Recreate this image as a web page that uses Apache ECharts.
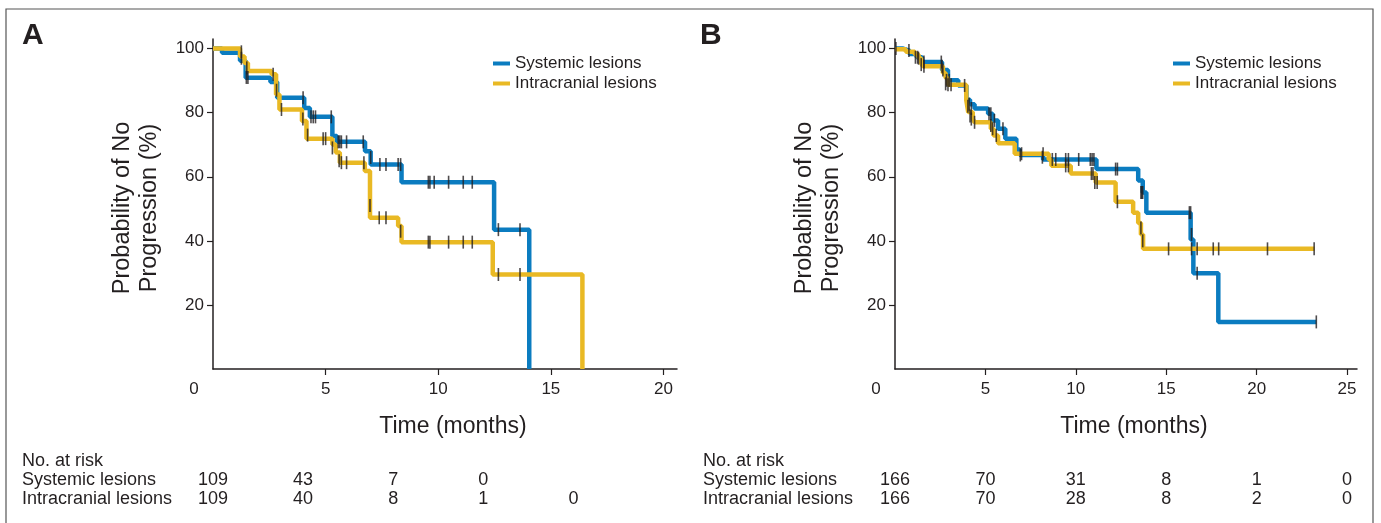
<!DOCTYPE html>
<html>
<head>
<meta charset="utf-8">
<script src="https://cdn.jsdelivr.net/npm/echarts@6/dist/echarts.min.js"></script>
<style>
  html, body { margin: 0; padding: 0; background: #fff; }
  #chart { width: 1381px; height: 523px; }
</style>
</head>
<body>
<div id="chart"></div>
<script>
// ---------- DATA ----------
const seriesNames = ['Systemic lesions', 'Intracranial lesions'];
const riskRows = ['No. at risk', 'Systemic lesions', 'Intracranial lesions'];

// Panel A: Kaplan-Meier steps [time (months), probability (%)]
const panelA_systemic = [[0,100],[0.4,98.7],[1.2,96.2],[1.45,90.9],[2.55,89.6],[2.85,84.7],[4.05,81.5],[4.3,78.7],[5.3,72.7],[5.5,70.9],[6.75,68],[7.0,63.8],[8.37,58.3],[12.48,43.5],[14.04,0]];
const panelA_intracranial = [[0,100],[1.2,97.5],[1.4,95.5],[1.55,93.0],[2.6,92.0],[2.8,85.7],[2.95,81],[3.95,77.4],[4.15,71.9],[5.3,70.1],[5.45,67.6],[5.63,64.4],[6.74,61.8],[6.97,47.2],[8.22,44.6],[8.37,39.6],[12.42,29.5],[16.4,0]];
const panelA_systemic_censor = [[1.26,97],[1.48,91],[1.55,91],[4.0,84.7],[4.35,78.7],[4.45,78.7],[4.55,78.7],[5.25,78.7],[5.56,70.9],[5.63,70.9],[5.7,70.9],[5.93,70.9],[6.67,70.9],[7.0,66],[7.41,63.8],[7.68,63.8],[8.22,63.8],[8.33,63.8],[9.56,58.3],[9.63,58.3],[9.82,58.3],[10.46,58.3],[11.11,58.3],[11.51,58.3],[12.67,43.5],[13.63,43.5]];
const panelA_intracranial_censor = [[1.26,99],[1.5,94],[2.67,92],[2.82,87],[3.04,81],[3.99,78],[4.2,73],[4.89,71.9],[5.0,71.9],[5.3,69],[5.6,65],[5.7,64.4],[5.93,64.4],[6.7,64.4],[6.97,51],[7.38,47.2],[7.68,47.2],[8.33,43],[9.56,39.6],[9.63,39.6],[10.46,39.6],[11.11,39.6],[11.51,39.6],[12.67,29.5],[13.63,29.5]];

// Panel B
const panelB_systemic = [[0,100],[0.45,99.4],[0.8,98.3],[1.2,97.3],[1.5,95.8],[2.6,93.3],[2.93,90.1],[3.5,88.5],[3.95,84],[4.15,82.6],[4.4,81.3],[5.15,79.7],[5.4,77.6],[5.7,75],[6.1,71.9],[6.71,68.5],[6.9,66.8],[8.19,65.4],[11.14,62.4],[13.45,58.8],[13.7,55.1],[13.9,48.8],[16.35,40.4],[16.5,29.9],[17.88,14.7],[23.3,14.7]];
const panelB_intracranial = [[0,99.8],[0.6,99],[1.1,98.2],[1.3,97],[1.45,95.5],[1.54,94.5],[2.65,92.4],[2.8,90.8],[2.93,88.7],[3.94,84],[4.05,80.2],[4.3,78.1],[4.4,77],[5.3,75],[5.45,72.9],[5.7,70.5],[6.62,67.2],[8.5,65.4],[8.65,63.4],[9.72,61],[11.1,58.2],[12.2,52.2],[13.17,48.8],[13.45,45.6],[13.6,42],[13.72,37.5],[23.2,37.5]];
const panelB_systemic_censor = [[0.05,100],[0.77,99.4],[1.13,97.3],[1.25,97.3],[1.6,95.8],[2.56,95.8],[2.65,93.3],[2.85,90.1],[3.0,90.1],[3.85,88.5],[4.1,82.6],[4.22,81.3],[5.2,79.7],[5.3,79.7],[5.5,77.6],[5.97,75],[6.93,66.8],[8.15,66.1],[8.7,65.4],[8.89,65.4],[9.44,65.4],[9.59,65.4],[10.16,65.4],[10.8,65.4],[10.9,65.4],[11.0,65.4],[12.2,62.4],[12.3,62.4],[13.6,55.1],[13.65,55.1],[13.7,55.1],[16.28,48.8],[16.35,48.8],[16.4,42],[16.71,29.9],[23.3,14.7]];
const panelB_intracranial_censor = [[1.3,97],[1.45,95],[1.6,94.5],[2.6,94.5],[2.8,89],[2.93,88.7],[3.1,88.7],[4.03,82],[4.15,79],[4.22,78],[4.4,77],[5.3,76],[5.4,75],[5.6,72.9],[7.0,67.2],[8.19,67.2],[9.44,63.4],[9.59,63.4],[10.86,61],[10.95,61],[11.05,58.2],[11.18,58.2],[12.3,52.2],[13.6,44],[13.7,40],[15.13,37.5],[16.4,37.5],[16.71,37.5],[17.6,37.5],[17.9,37.5],[20.6,37.5],[23.18,37.5]];

// Ticks
const yTicks = [20, 40, 60, 80, 100];
const xTicksA = [0, 5, 10, 15, 20];
const xTicksB = [0, 5, 10, 15, 20, 25];

// Number at risk tables
const riskTimesA = [0, 4, 8, 12, 16];
const riskA_systemic = [109, 43, 7, 0, null];
const riskA_intracranial = [109, 40, 8, 1, 0];
const riskTimesB = [0, 5, 10, 15, 20, 25];
const riskB_systemic = [166, 70, 31, 8, 1, 0];
const riskB_intracranial = [166, 70, 28, 8, 2, 0];

// ---------- STYLE ----------
const FONT = '"Liberation Sans", Arial, Helvetica, sans-serif';
const BLUE = '#0b7cc0';
const YELLOW = '#e9b924';
const INK = '#231f20';

const chart = echarts.init(document.getElementById('chart'), null, { renderer: 'canvas' });

function xAxisMain(gridIndex, max, ticks) {
  return {
    type: 'value', gridIndex, min: 0, max,
    name: 'Time (months)', nameLocation: 'middle', nameGap: 46,
    nameTextStyle: { fontFamily: FONT, fontSize: 23, color: INK, padding: [0, 0, 0, 16] },
    axisLine: { show: true, onZero: false, lineStyle: { color: INK, width: 1.5 } },
    axisTick: { show: true, customValues: ticks.filter(v => v !== 0), length: 6, lineStyle: { color: INK, width: 1.2 } },
    axisLabel: {
      customValues: ticks, margin: 12, fontFamily: FONT, fontSize: 17, color: INK,
      formatter: v => v === 0 ? '{z|0}' : String(v),
      rich: { z: { fontFamily: FONT, fontSize: 17, color: INK, padding: [0, 38, 0, 0] } }
    },
    splitLine: { show: false }
  };
}
function yAxisMain(gridIndex) {
  return {
    type: 'value', gridIndex, min: 0, max: 103,
    name: 'Probability of No\nProgression (%)', nameLocation: 'middle', nameGap: 50, nameRotate: 90,
    nameTextStyle: { fontFamily: FONT, fontSize: 23.5, lineHeight: 27, color: INK, padding: [0, 8, 0, 0] },
    axisLine: { show: true, onZero: false, lineStyle: { color: INK, width: 1.5 } },
    axisTick: { show: true, customValues: yTicks, length: 6, lineStyle: { color: INK, width: 1.2 } },
    axisLabel: { customValues: yTicks, margin: 9, fontFamily: FONT, fontSize: 17, color: INK },
    splitLine: { show: false }
  };
}
function xAxisRisk(gridIndex, max) {
  return { type: 'value', gridIndex, min: 0, max, show: false, splitLine: { show: false } };
}
function yAxisRisk(gridIndex, margin) {
  return {
    type: 'category', gridIndex, data: riskRows, inverse: true,
    axisLine: { show: false }, axisTick: { show: false }, splitLine: { show: false },
    axisLabel: { interval: 0, hideOverlap: false, align: 'left', margin, fontFamily: FONT, fontSize: 18, color: INK }
  };
}
function kmLine(name, data, color, xi, yi) {
  return {
    name, type: 'line', step: 'end', data, xAxisIndex: xi, yAxisIndex: yi,
    showSymbol: false, symbol: 'none', lineStyle: { color, width: 4.5 }, itemStyle: { color },
    z: 3, silent: true
  };
}
function censor(name, data, xi, yi) {
  return {
    name, type: 'scatter', data, xAxisIndex: xi, yAxisIndex: yi,
    symbol: 'rect', symbolSize: [1.6, 13], itemStyle: { color: INK }, z: 5, silent: true
  };
}
function riskSeries(name, times, vals, row, xi, yi) {
  const data = [];
  times.forEach((t, i) => { if (vals[i] !== null) data.push([t, row, vals[i]]); });
  return {
    name, type: 'scatter', data, xAxisIndex: xi, yAxisIndex: yi,
    symbol: 'circle', symbolSize: 0.01, itemStyle: { color: INK }, silent: true,
    label: { show: true, position: 'inside', formatter: p => String(p.value[2]),
             fontFamily: FONT, fontSize: 18, color: INK, opacity: 1, textBorderWidth: 0 }
  };
}
function legend(left) {
  return {
    data: seriesNames, orient: 'vertical', left, top: 50,
    icon: 'rect', itemWidth: 17, itemHeight: 4, itemGap: 3,
    textStyle: { fontFamily: FONT, fontSize: 17, color: INK, lineHeight: 17 },
    selectedMode: false
  };
}

const option = {
  animation: false,
  backgroundColor: '#fff',
  grid: [
    { left: 213, top: 39, width: 464, height: 330 },
    { left: 895, top: 39, width: 462, height: 330 },
    { left: 213, top: 452, width: 464, height: 56 },
    { left: 895, top: 452, width: 462, height: 56 }
  ],
  xAxis: [ xAxisMain(0, 20.6, xTicksA), xAxisMain(1, 25.55, xTicksB), xAxisRisk(2, 20.6), xAxisRisk(3, 25.55) ],
  yAxis: [ yAxisMain(0), yAxisMain(1), yAxisRisk(2, 191), yAxisRisk(3, 192) ],
  legend: [ legend(488), legend(1168) ],
  graphic: [
    { type: 'rect', shape: { x: 6, y: 9, width: 1367, height: 540 }, style: { fill: 'none', stroke: '#555', lineWidth: 1.2 }, silent: true },
    { type: 'text', left: 22, top: 21, style: { text: 'A', font: 'bold 30px ' + FONT, fill: INK } },
    { type: 'text', left: 700, top: 21, style: { text: 'B', font: 'bold 30px ' + FONT, fill: INK } }
  ],
  series: [
    kmLine(seriesNames[0], panelA_systemic, BLUE, 0, 0),
    kmLine(seriesNames[1], panelA_intracranial, YELLOW, 0, 0),
    censor('censorA1', panelA_systemic_censor, 0, 0),
    censor('censorA2', panelA_intracranial_censor, 0, 0),
    kmLine(seriesNames[0], panelB_systemic, BLUE, 1, 1),
    kmLine(seriesNames[1], panelB_intracranial, YELLOW, 1, 1),
    censor('censorB1', panelB_systemic_censor, 1, 1),
    censor('censorB2', panelB_intracranial_censor, 1, 1),
    riskSeries('riskA1', riskTimesA, riskA_systemic, riskRows[1], 2, 2),
    riskSeries('riskA2', riskTimesA, riskA_intracranial, riskRows[2], 2, 2),
    riskSeries('riskB1', riskTimesB, riskB_systemic, riskRows[1], 3, 3),
    riskSeries('riskB2', riskTimesB, riskB_intracranial, riskRows[2], 3, 3)
  ]
};
chart.setOption(option);
</script>
</body>
</html>
